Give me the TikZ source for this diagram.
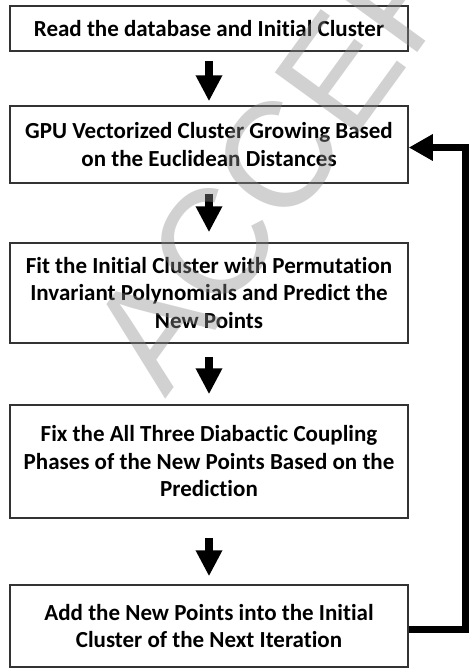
\documentclass[tikz,border=0pt]{standalone}
\usepackage{fontspec}
\setmainfont{Carlito}[Ligatures=NoCommon]
\newfontfamily\wmfont{Liberation Sans}
\usetikzlibrary{arrows.meta}
\definecolor{boxline}{HTML}{333333}
\tikzset{
  stepbox/.style={draw=boxline, line width=1.5pt, fill=white, minimum width=398pt,
    align=center, inner sep=0pt, font=\fontsize{23}{27.5}\selectfont\bfseries},
  downarrow/.style={line width=8pt, -{Triangle[length=26pt,width=25pt]}},
  backarrow/.style={line width=7pt, line join=miter, -{Triangle[length=24pt,width=25pt]}},
  watermark/.style={font=\fontsize{150}{150}\selectfont\wmfont, text=black!45, text opacity=0.4,
    inner sep=0pt, rotate=54, anchor=base west}
}
\begin{document}
\begin{tikzpicture}[x=1pt,y=-1pt]
\useasboundingbox (0,0) rectangle (471,670);
\node[stepbox, minimum height=45pt] (b1) at (209,28.5) {Read the database and Initial Cluster};
\node[stepbox, minimum height=77pt] (b2) at (209,144.5) {GPU Vectorized Cluster Growing Based\\on the Euclidean Distances};
\node[stepbox, minimum height=100pt] (b3) at (209,293) {Fit the Initial Cluster with Permutation\\Invariant Polynomials and Predict the\\New Points};
\node[stepbox, minimum height=113pt] (b4) at (209,461.5) {Fix the All Three Diabactic Coupling\\Phases of the New Points Based on the\\Prediction};
\node[stepbox, minimum height=82pt] (b5) at (209,626) {Add the New Points into the Initial\\Cluster of the Next Iteration};
\draw[downarrow] ([yshift=-9pt]b1.south) -- ([yshift=4pt]b2.north);
\draw[downarrow] ([yshift=-10pt]b2.south) -- ([yshift=10pt]b3.north);
\draw[downarrow] ([yshift=-13pt]b3.south) -- ([yshift=10pt]b4.north);
\draw[downarrow] ([yshift=-19pt]b4.south) -- ([yshift=8pt]b5.north);
\draw[backarrow] ([yshift=-3pt]b5.east) -- ++(57,0) |- ([yshift=-3pt]b2.east);
\begin{scope}
\clip (0,0) rectangle (471,670);
\node[watermark] (wm) at (165,400) {ACCEPTED};
\end{scope}
\end{tikzpicture}
\end{document}
